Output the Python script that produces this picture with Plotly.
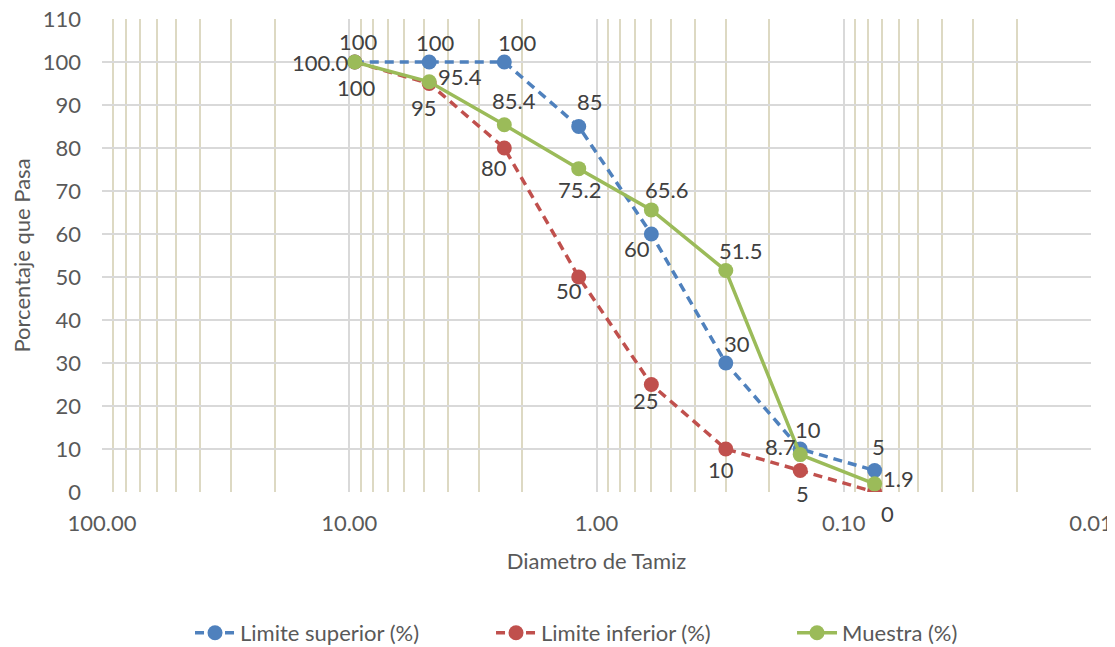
import math
import plotly.graph_objects as go

diametro = [9.5, 4.75, 2.36, 1.18, 0.6, 0.3, 0.15, 0.075]
lim_sup = [100, 100, 100, 85, 60, 30, 10, 5]
lim_inf = [100, 95, 80, 50, 25, 10, 5, 0]
muestra = [100.0, 95.4, 85.4, 75.2, 65.6, 51.5, 8.7, 1.9]
muestra_txt = ["100.0", "95.4", "85.4", "75.2", "65.6", "51.5", "8.7", "1.9"]

x_ticks = [100, 10, 1, 0.1, 0.01]
x_ticktext = ["100.00", "10.00", "1.00", "0.10", "0.01"]
minor_vals = [m * 10.0 ** k for k in range(-2, 2) for m in range(2, 10)]

# label pixel offsets (dx right, dy down) per point
off_sup = [(4, -21), (6, -20), (13, -20), (11, -25), (-14, 14), (11, -20), (8, -20), (4, -24)]
off_inf = [(2, 25), (-5, 24), (-10, 19), (-10, 13), (-5, 16), (-5, 20), (2, 23), (13, 21)]
off_mue = [(-35, 0), (31, -5), (10, -24), (1, 21), (15, -20), (15, -20), (-20, -8), (24, -5)]

FONT = "Lato"
FS = 22
LBL = dict(family=FONT, size=FS, color="#404040")
GREY = "#595959"

fig = go.Figure()
series = [
    ("Limite superior (%)", lim_sup, [str(v) for v in lim_sup], "#4F81BD", "9px,6px", off_sup),
    ("Limite inferior (%)", lim_inf, [str(v) for v in lim_inf], "#C0504D", "9px,6px", off_inf),
    ("Muestra (%)", muestra, muestra_txt, "#9BBB59", "solid", off_mue),
]
annotations = []
for name, ys, txt, col, dash, offs in series:
    fig.add_trace(go.Scatter(
        x=diametro, y=ys, name=name, mode="lines+markers",
        line=dict(color=col, width=3.5, dash=dash),
        marker=dict(size=15, color=col),
    ))
    for xv, yv, t, (dx, dy) in zip(diametro, ys, txt, offs):
        annotations.append(dict(
            x=math.log10(xv), y=yv, xref="x", yref="y", text=t, showarrow=False,
            xshift=dx, yshift=-dy, font=LBL, xanchor="center", yanchor="middle",
        ))

# page body has an 8px margin, so the figure is 8px smaller and margins shifted
fig.update_layout(
    width=1107, height=639,
    margin=dict(l=94, r=24, t=11, b=155, autoexpand=False),
    plot_bgcolor="white", paper_bgcolor="white",
    font=dict(family=FONT, size=FS, color=GREY),
    showlegend=True,
    legend=dict(orientation="h", x=0.089, xanchor="left", y=-0.298, yanchor="middle",
                font=dict(family=FONT, size=FS, color=GREY),
                entrywidth=246, entrywidthmode="pixels", itemwidth=40),
    annotations=annotations,
    xaxis=dict(
        type="log", range=[2, -2], automargin=False,
        tickmode="array", tickvals=x_ticks, ticktext=x_ticktext,
        ticklabeloverflow="allow",
        showgrid=True, gridcolor="#D9D9D9", gridwidth=1.5,
        minor=dict(tickmode="array", tickvals=minor_vals, showgrid=True,
                   gridcolor="#DDD9C3", gridwidth=1.5, ticks=""),
        zeroline=False, showline=False, ticks="",
        ticklabelstandoff=16,
        title=dict(text="Diametro de Tamiz", standoff=18,
                   font=dict(family=FONT, size=FS, color=GREY)),
    ),
    yaxis=dict(
        range=[0, 110], dtick=10, tick0=0, automargin=False,
        ticklabeloverflow="allow",
        showgrid=True, gridcolor="#D9D9D9", gridwidth=1.5,
        zeroline=False, showline=False, ticks="",
        ticklabelstandoff=20,
        title=dict(text="Porcentaje que Pasa", standoff=10,
                   font=dict(family=FONT, size=FS, color=GREY)),
    ),
)

fig.write_html("out.html")
